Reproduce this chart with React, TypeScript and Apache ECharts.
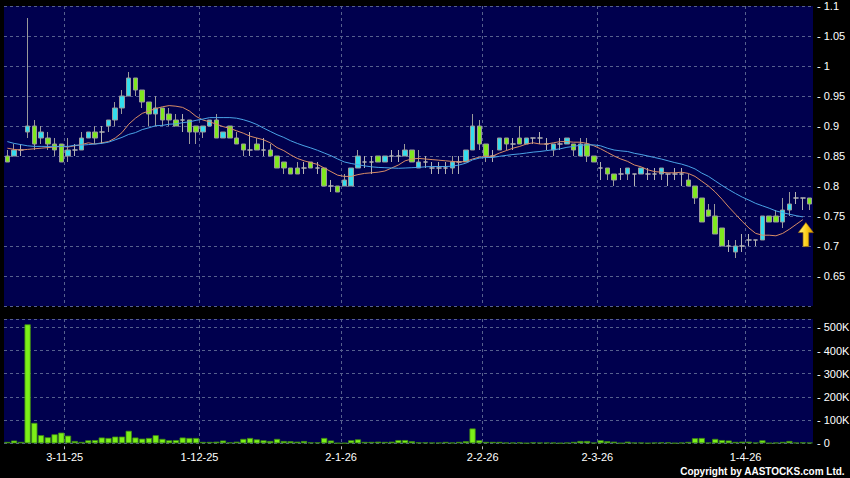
import React, { useEffect, useRef } from 'react';
import * as echarts from 'echarts';

// ---------- calendar (HK trading days) ----------
const START_DATE = '2025-10-20';
const HOLIDAYS = ['2025-10-29', '2025-12-25', '2025-12-26', '2026-01-01', '2026-02-17', '2026-02-18', '2026-02-19', '2026-04-03', '2026-04-06', '2026-04-07'];
const N_DAYS = 120;

function buildDates(): string[] {
  const out: string[] = [];
  const d = new Date(START_DATE + 'T00:00:00Z');
  while (out.length < N_DAYS) {
    const iso = d.toISOString().slice(0, 10);
    const wd = d.getUTCDay();
    if (wd !== 0 && wd !== 6 && !HOLIDAYS.includes(iso)) {
      out.push(`${d.getUTCDate()}-${d.getUTCMonth() + 1}-${String(d.getUTCFullYear()).slice(2)}`);
    }
    d.setUTCDate(d.getUTCDate() + 1);
  }
  return out;
}
const categories = buildDates();

// x tick labels (placed on the boundary before that trading day)
const tickLabels = ['3-11-25', '1-12-25', '2-1-26', '2-2-26', '2-3-26', '1-4-26'];
const tickIdx = [9, 29, 50, 71, 88, 110];

// price y-axis
const priceMin = 0.6;
const priceMax = 1.1;
const priceStep = 0.05;
// volume y-axis
const volMax = 536000;
const volStep = 100000;

// ---------- OHLC ----------
const openP = [
  0.85, 0.85, 0.86, 0.89, 0.90, 0.88, 0.88, 0.87, 0.87, 0.85,
  0.86, 0.86, 0.88, 0.89, 0.89, 0.90, 0.91, 0.93, 0.95, 0.98,
  0.96, 0.94, 0.92, 0.93, 0.92, 0.91, 0.91, 0.91, 0.90, 0.89,
  0.90, 0.91, 0.88, 0.90, 0.88, 0.87, 0.86, 0.87, 0.86, 0.86,
  0.85, 0.84, 0.83, 0.83, 0.83, 0.84, 0.83, 0.83, 0.80, 0.80,
  0.80, 0.80, 0.83, 0.84, 0.84, 0.85, 0.84, 0.85, 0.85, 0.85,
  0.86, 0.83, 0.84, 0.83, 0.83, 0.83, 0.83, 0.84, 0.84, 0.86,
  0.90, 0.87, 0.85, 0.86, 0.88, 0.87, 0.88, 0.87, 0.88, 0.88,
  0.87, 0.86, 0.87, 0.87, 0.87, 0.85, 0.87, 0.85, 0.83, 0.83,
  0.82, 0.82, 0.82, 0.82, 0.82, 0.82, 0.82, 0.82, 0.82, 0.82,
  0.82, 0.81, 0.80, 0.78, 0.76, 0.75, 0.73, 0.70, 0.69, 0.70,
  0.71, 0.71, 0.71, 0.75, 0.75, 0.74, 0.76, 0.78, 0.78, 0.78,
];
const closeP = [
  0.84, 0.86, 0.86, 0.90, 0.87, 0.89, 0.87, 0.86, 0.84, 0.86,
  0.86, 0.88, 0.89, 0.88, 0.89, 0.91, 0.93, 0.95, 0.98, 0.96,
  0.94, 0.92, 0.93, 0.91, 0.91, 0.90, 0.91, 0.89, 0.89, 0.90,
  0.91, 0.88, 0.89, 0.88, 0.87, 0.86, 0.86, 0.86, 0.86, 0.85,
  0.83, 0.83, 0.82, 0.82, 0.83, 0.83, 0.83, 0.80, 0.80, 0.79,
  0.81, 0.83, 0.85, 0.84, 0.84, 0.84, 0.85, 0.85, 0.85, 0.86,
  0.84, 0.84, 0.84, 0.83, 0.83, 0.83, 0.84, 0.84, 0.86, 0.90,
  0.87, 0.85, 0.85, 0.88, 0.87, 0.87, 0.87, 0.88, 0.88, 0.88,
  0.87, 0.87, 0.87, 0.88, 0.86, 0.87, 0.85, 0.84, 0.83, 0.82,
  0.81, 0.82, 0.83, 0.82, 0.83, 0.82, 0.82, 0.83, 0.82, 0.82,
  0.82, 0.80, 0.78, 0.74, 0.75, 0.72, 0.70, 0.70, 0.70, 0.70,
  0.71, 0.71, 0.75, 0.74, 0.74, 0.76, 0.77, 0.78, 0.78, 0.77,
];
const highP = [
  0.86, 0.87, 0.87, 1.08, 0.91, 0.90, 0.89, 0.88, 0.87, 0.88,
  0.87, 0.89, 0.89, 0.90, 0.90, 0.91, 0.94, 0.96, 0.99, 0.98,
  0.96, 0.94, 0.95, 0.93, 0.93, 0.92, 0.92, 0.91, 0.90, 0.90,
  0.91, 0.92, 0.89, 0.90, 0.89, 0.87, 0.89, 0.88, 0.88, 0.87,
  0.85, 0.84, 0.83, 0.84, 0.84, 0.84, 0.84, 0.83, 0.81, 0.80,
  0.82, 0.83, 0.86, 0.85, 0.85, 0.85, 0.85, 0.86, 0.86, 0.87,
  0.86, 0.86, 0.85, 0.84, 0.84, 0.84, 0.85, 0.85, 0.86, 0.92,
  0.91, 0.87, 0.86, 0.88, 0.88, 0.88, 0.90, 0.88, 0.88, 0.89,
  0.88, 0.87, 0.88, 0.88, 0.87, 0.88, 0.88, 0.85, 0.84, 0.83,
  0.82, 0.83, 0.83, 0.82, 0.83, 0.83, 0.83, 0.83, 0.82, 0.83,
  0.83, 0.82, 0.80, 0.78, 0.77, 0.77, 0.73, 0.71, 0.71, 0.72,
  0.72, 0.71, 0.75, 0.75, 0.76, 0.78, 0.79, 0.79, 0.78, 0.78,
];
const lowP = [
  0.84, 0.85, 0.85, 0.88, 0.86, 0.87, 0.86, 0.85, 0.84, 0.84,
  0.85, 0.86, 0.88, 0.87, 0.87, 0.89, 0.90, 0.92, 0.95, 0.95,
  0.93, 0.90, 0.90, 0.90, 0.90, 0.90, 0.89, 0.87, 0.87, 0.88,
  0.90, 0.88, 0.88, 0.88, 0.87, 0.85, 0.85, 0.86, 0.85, 0.85,
  0.83, 0.82, 0.82, 0.82, 0.82, 0.83, 0.82, 0.80, 0.79, 0.79,
  0.80, 0.80, 0.83, 0.83, 0.82, 0.84, 0.84, 0.84, 0.84, 0.85,
  0.84, 0.83, 0.83, 0.82, 0.82, 0.82, 0.82, 0.82, 0.84, 0.86,
  0.86, 0.84, 0.84, 0.86, 0.86, 0.86, 0.87, 0.87, 0.87, 0.87,
  0.86, 0.85, 0.86, 0.87, 0.85, 0.85, 0.84, 0.84, 0.81, 0.81,
  0.80, 0.81, 0.81, 0.80, 0.82, 0.81, 0.81, 0.81, 0.80, 0.81,
  0.80, 0.80, 0.77, 0.74, 0.75, 0.72, 0.70, 0.69, 0.68, 0.69,
  0.70, 0.70, 0.71, 0.74, 0.74, 0.73, 0.75, 0.77, 0.76, 0.76,
];

// ---------- volume ----------
const volume = [
  6000, 12000, 6000, 513000, 88000, 35000, 26000, 39000, 46000, 33000,
  10000, 6000, 13000, 14000, 25000, 23000, 29000, 29000, 54000, 25000,
  20000, 23000, 35000, 19000, 13000, 14000, 25000, 23000, 23000, 6000,
  6000, 7000, 12000, 4000, 7000, 19000, 23000, 17000, 13000, 10000,
  19000, 10000, 9000, 7000, 10000, 4000, 4000, 23000, 12000, 1000,
  1000, 13000, 17000, 6000, 6000, 7000, 6000, 7000, 14000, 14000,
  9000, 4000, 4000, 3000, 3000, 6000, 3000, 6000, 9000, 64000,
  13000, 6000, 6000, 6000, 3000, 3000, 4000, 1000, 4000, 3000,
  3000, 3000, 1000, 3000, 6000, 10000, 10000, 3000, 13000, 9000,
  7000, 1000, 7000, 3000, 3000, 1000, 3000, 4000, 4000, 1000,
  3000, 6000, 22000, 23000, 3000, 19000, 14000, 12000, 6000, 7000,
  7000, 3000, 13000, 1000, 3000, 6000, 10000, 3000, 4000, 3000,
];

const ma10Lead = [0.863, 0.861, 0.860, 0.861, 0.862, 0.863, 0.864, 0.865, 0.866];
const ma20Lead = [0.874, 0.871, 0.869, 0.867, 0.866, 0.866, 0.866, 0.866, 0.866, 0.866, 0.868, 0.868, 0.869, 0.870, 0.871, 0.873, 0.877, 0.881, 0.886];
const maLastIndex = 118;

function movingAvg(n: number, lead: number[]) {
  return categories.map((_, i) => {
    if (i > maLastIndex) return '-';
    if (i < n - 1) return lead[i];
    let s = 0;
    for (let j = i - n + 1; j <= i; j++) s += closeP[j];
    return +(s / n).toFixed(4);
  });
}

const COLORS = {
  page: '#000000',
  plot: '#00004E',
  grid: '#56608E',
  up: '#33DDEE',
  down: '#7FE81E',
  candleBorder: '#9A9A9A',
  ma10: '#D98C66',
  ma20: '#4AA3E6',
  vol: '#7CF018',
  volBorder: '#3E8C12',
  text: '#FFFFFF',
};

export default function App() {
  const ref = useRef<HTMLDivElement>(null);

  useEffect(() => {
    document.body.style.margin = '0';
    document.body.style.background = COLORS.page;
    if (!ref.current) return;
    const chart = echarts.init(ref.current, undefined, { renderer: 'svg' });

    const ma10 = movingAvg(10, ma10Lead);
    const ma20 = movingAvg(20, ma20Lead);
    const ohlc = categories.map((_, i) => [openP[i], closeP[i], lowP[i], highP[i]]);
    const boundaryCats = Array.from({ length: N_DAYS + 1 }, (_, k) => {
      const t = tickIdx.indexOf(k);
      return t >= 0 ? tickLabels[t] : `#${k}`;
    });
    const isTick = (idx: number) => tickIdx.includes(idx);
    const dashed = { color: COLORS.grid, type: [3, 3] as any, width: 1 };
    const font = '"Liberation Sans", Arial, sans-serif';

    const option: any = {
      animation: false,
      backgroundColor: COLORS.page,
      grid: [
        { left: 4, right: 37, top: 6, height: 300, show: true, backgroundColor: COLORS.plot, borderWidth: 0, outerBoundsMode: 'none' },
        { left: 4, right: 37, top: 319, height: 124.3, show: true, backgroundColor: COLORS.plot, borderWidth: 0, outerBoundsMode: 'none' },
      ],
      xAxis: [
        { type: 'category', gridIndex: 0, data: categories, boundaryGap: true, axisLine: { show: false }, axisTick: { show: false }, axisLabel: { show: false }, splitLine: { show: false } },
        {
          type: 'category', gridIndex: 0, data: boundaryCats, boundaryGap: false,
          axisLine: { show: false }, axisTick: { show: false }, axisLabel: { show: false },
          splitLine: { show: true, interval: (idx: number) => isTick(idx), lineStyle: dashed },
        },
        { type: 'category', gridIndex: 1, data: categories, boundaryGap: true, axisLine: { show: false }, axisTick: { show: false }, axisLabel: { show: false }, splitLine: { show: false } },
        {
          type: 'category', gridIndex: 1, data: boundaryCats, boundaryGap: false, position: 'bottom', offset: 3,
          axisLine: { show: false },
          axisTick: { show: true, interval: (idx: number) => isTick(idx), length: 3, lineStyle: { color: '#BBBBBB' } },
          axisLabel: { show: true, interval: (idx: number) => isTick(idx), color: COLORS.text, fontSize: 11, fontFamily: font, margin: 5 },
          splitLine: { show: true, interval: (idx: number) => isTick(idx), lineStyle: dashed },
        },
      ],
      yAxis: [
        {
          type: 'value', gridIndex: 0, position: 'right', min: priceMin, max: priceMax, interval: priceStep,
          axisLine: { show: false }, axisTick: { show: false },
          axisLabel: { color: COLORS.text, fontSize: 11, fontFamily: font, margin: 4, showMinLabel: false, formatter: (v: number) => '- ' + String(parseFloat(v.toFixed(2))) },
          splitLine: { show: true, lineStyle: dashed },
        },
        {
          type: 'value', gridIndex: 1, position: 'right', min: 0, max: volMax, interval: volStep,
          axisLine: { show: false }, axisTick: { show: false },
          axisLabel: { color: COLORS.text, fontSize: 11, fontFamily: font, margin: 4, showMaxLabel: false, formatter: (v: number) => (v === 0 ? '- 0' : `- ${Math.round(v / 1000)}K`) },
          splitLine: { show: true, lineStyle: dashed },
        },
      ],
      series: [
        {
          type: 'candlestick', name: 'Price', xAxisIndex: 0, yAxisIndex: 0, data: ohlc, barWidth: 5,
          itemStyle: { color: COLORS.up, color0: COLORS.down, borderColor: COLORS.candleBorder, borderColor0: COLORS.candleBorder, borderColorDoji: '#B4B4B4', borderWidth: 1 },
          z: 2,
        },
        {
          type: 'line', name: 'MA10', xAxisIndex: 0, yAxisIndex: 0, data: ma10, showSymbol: false, smooth: false,
          lineStyle: { color: COLORS.ma10, width: 1 }, itemStyle: { color: COLORS.ma10 }, z: 3,
          markPoint: {
            silent: true,
            symbol: 'path://M8,0 L16,10 L11,10 L11,24 L5,24 L5,10 L0,10 Z',
            symbolSize: [15, 24],
            symbolOffset: [3, 15],
            label: { show: false },
            itemStyle: {
              color: { type: 'linear', x: 0, y: 0, x2: 1, y2: 0, colorStops: [{ offset: 0, color: '#FFF38A' }, { offset: 0.5, color: '#FFD21E' }, { offset: 1, color: '#D99A00' }] },
              borderColor: '#A87400', borderWidth: 0.6,
            },
            data: [{ coord: [categories[maLastIndex], ma10[maLastIndex]] }],
          },
        },
        {
          type: 'line', name: 'MA20', xAxisIndex: 0, yAxisIndex: 0, data: ma20, showSymbol: false, smooth: false,
          lineStyle: { color: COLORS.ma20, width: 1 }, itemStyle: { color: COLORS.ma20 }, z: 3,
        },
        {
          type: 'bar', name: 'Volume', xAxisIndex: 2, yAxisIndex: 1, data: volume, barCategoryGap: '8%',
          itemStyle: { color: COLORS.vol, borderColor: COLORS.volBorder, borderWidth: 0.8 },
        },
      ],
      graphic: [
        {
          type: 'text', right: 5, top: 466,
          style: { text: 'Copyright by AASTOCKS.com Ltd.', fill: COLORS.text, font: `bold 10px ${font}` },
        },
      ],
    };

    chart.setOption(option);
    return () => chart.dispose();
  }, []);

  return <div ref={ref} style={{ width: 850, height: 478 }} />;
}
